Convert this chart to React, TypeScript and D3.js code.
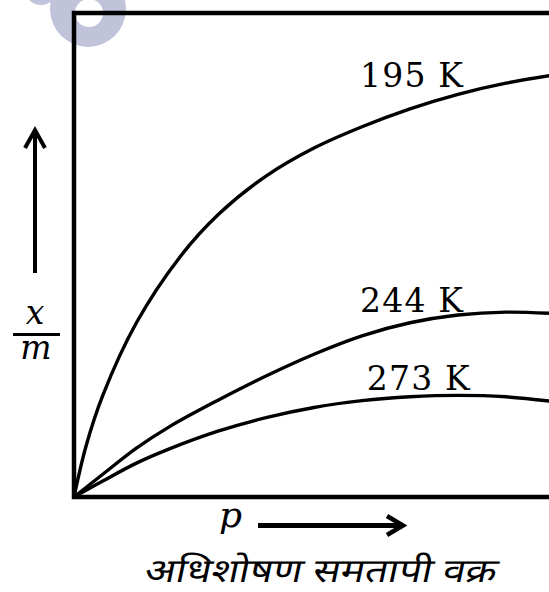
import React from 'react';
import * as d3 from 'd3';

// Adsorption isotherms: amount adsorbed per unit mass (x/m) against pressure p
const temperatures = ['195 K', '244 K', '273 K'];

const isotherm195: [number, number][] = [
  [0, 0], [0.25, 1.05], [0.6, 2.1], [1.3, 3.6], [2.2, 4.95], [3.0, 5.83],
  [4.0, 6.63], [5.0, 7.21], [6.0, 7.65], [7.0, 8.02], [8.0, 8.32], [9.0, 8.55], [10.0, 8.72],
];
const isotherm244: [number, number][] = [
  [0, 0], [0.6, 0.47], [1.3, 1.01], [2.0, 1.46], [3.0, 2.0], [4.0, 2.5],
  [5.0, 2.95], [6.0, 3.33], [7.0, 3.6], [8.0, 3.76], [9.0, 3.82], [10.0, 3.79],
];
const isotherm273: [number, number][] = [
  [0, 0], [0.6, 0.33], [1.3, 0.7], [2.0, 1.0], [3.0, 1.36], [4.0, 1.64],
  [5.0, 1.85], [6.0, 1.99], [7.0, 2.07], [8.0, 2.1], [9.0, 2.07], [10.0, 1.97],
];
const isotherms = [isotherm195, isotherm244, isotherm273];

// where each temperature label sits, in data units (start of text, baseline)
const labelAnchors: [number, number][] = [[5.96, 8.47], [5.96, 3.82], [6.1, 2.21]];

const yLabelTop = 'x';
const yLabelBottom = 'm';
const xLabel = 'p';
const caption = 'अधिशोषण समतापी वक्र';

const W = 549;
const H = 592;

export default function App() {
  const x = d3.scaleLinear().domain([0, 10]).range([74, 554]);
  const y = d3.scaleLinear().domain([0, 10]).range([497, 13]);

  const line = d3
    .line<[number, number]>()
    .x((d) => x(d[0]))
    .y((d) => y(d[1]))
    .curve(d3.curveCatmullRom.alpha(0.5));

  const serif = '"DejaVu Serif", serif';

  return (
    <div style={{ position: 'absolute', left: 0, top: 0 }}>
      <svg width={W} height={H} style={{ display: 'block', background: '#fff' }}>
        {/* faint logo mark in the corner */}
        <g fill="#c0c3da">
          <path
            d="M88,9 m-38,0 a38,38 0 1,0 76,0 a38,38 0 1,0 -76,0 Z M89,13 m-14,0 a14,14 0 1,1 28,0 a14,14 0 1,1 -28,0 Z"
            fillRule="evenodd"
          />
          <circle cx={41} cy={-12} r={17} />
        </g>

        {/* frame */}
        <path
          d={`M${x(10.6)},${y(0)} H${x(0)} V${y(10)} H${x(10.6)}`}
          fill="none"
          stroke="#000"
          strokeWidth={4.5}
          strokeLinejoin="miter"
        />

        {/* isotherms */}
        {isotherms.map((pts, i) => (
          <path
            key={temperatures[i]}
            d={line(pts) ?? ''}
            fill="none"
            stroke="#000"
            strokeWidth={3.4}
            strokeLinecap="round"
          />
        ))}

        {temperatures.map((t, i) => (
          <text
            key={t}
            x={x(labelAnchors[i][0])}
            y={y(labelAnchors[i][1])}
            fontFamily={serif}
            fontSize={33}
            letterSpacing={1.2}
            fill="#000"
          >
            {t}
          </text>
        ))}

        {/* y-axis label: upward arrow and x/m */}
        <g stroke="#000" strokeWidth={4} fill="none" strokeLinecap="butt">
          <line x1={35} y1={273} x2={35} y2={131} />
          <polyline points="25,148 35,130 45,148" strokeLinejoin="miter" />
        </g>
        <text x={35} y={324} textAnchor="middle" fontFamily={serif} fontStyle="italic" fontSize={33}>
          {yLabelTop}
        </text>
        <line x1={13} y1={334.5} x2={60} y2={334.5} stroke="#000" strokeWidth={3} />
        <text x={36} y={359} textAnchor="middle" fontFamily={serif} fontStyle="italic" fontSize={33}>
          {yLabelBottom}
        </text>

        {/* x-axis label: p and rightward arrow */}
        <text x={219} y={527} fontFamily={serif} fontStyle="italic" fontSize={36}>
          {xLabel}
        </text>
        <g stroke="#000" fill="none">
          <line x1={258} y1={525.5} x2={401} y2={525.5} strokeWidth={5} />
          <polyline points="387,516 403,525.5 387,535" strokeWidth={4.5} strokeLinejoin="miter" />
        </g>

        <g transform="translate(143,582) skewX(-12)">
          <text
            x={0}
            y={0}
            fontFamily={'"Noto Sans", "Noto Sans Devanagari", "Lohit Devanagari", sans-serif'}
            fontSize={33}
            textLength={352}
            lengthAdjust="spacingAndGlyphs"
          >
            {caption}
          </text>
        </g>
      </svg>
    </div>
  );
}
